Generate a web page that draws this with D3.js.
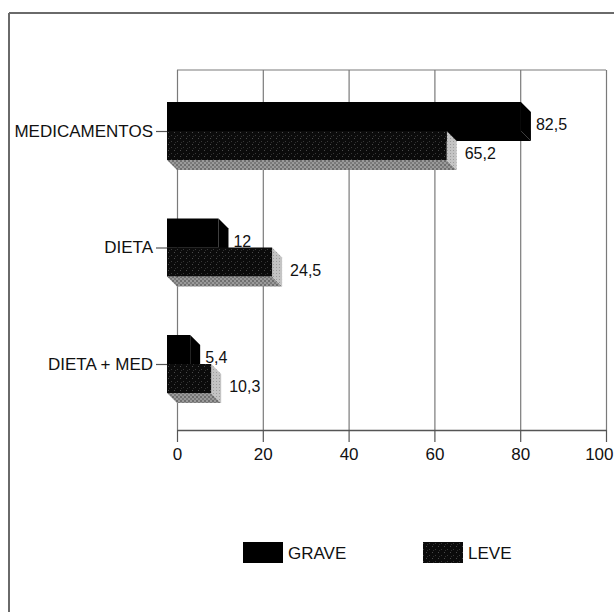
<!DOCTYPE html>
<html>
<head>
<meta charset="utf-8">
<script src="https://cdn.jsdelivr.net/npm/d3@7"></script>
<style>
  html, body { margin: 0; padding: 0; background: #fff; }
  svg { display: block; }
  text { font-family: "Liberation Sans Narrow", "Arial Narrow", "Liberation Sans", sans-serif; font-stretch: condensed; fill: #111; }
</style>
</head>
<body>
<svg id="chart" width="614" height="612"></svg>
<script>
// Categories and the two series (percent)
const categories = ["MEDICAMENTOS", "DIETA", "DIETA + MED"];
const seriesNames = ["GRAVE", "LEVE"];
const graveValues = [82.5, 12, 5.4];
const leveValues = [65.2, 24.5, 10.3];
const xTickValues = [0, 20, 40, 60, 80, 100];

const svg = d3.select("#chart");
const W = 614, H = 612;
const FONT = "'Liberation Sans Narrow','Arial Narrow','Liberation Sans',sans-serif";

// Patterns for the textured LEVE bars
const defs = svg.append("defs");
const pFront = defs.append("pattern").attr("id", "leveFront")
  .attr("patternUnits", "userSpaceOnUse").attr("width", 6).attr("height", 6);
pFront.append("rect").attr("width", 6).attr("height", 6).attr("fill", "#0b0b0b");
pFront.append("rect").attr("x", 0).attr("y", 0).attr("width", 1).attr("height", 1).attr("fill", "#4a4a4a");
pFront.append("rect").attr("x", 3).attr("y", 3).attr("width", 1).attr("height", 1).attr("fill", "#3a3a3a");
pFront.append("rect").attr("x", 1).attr("y", 4).attr("width", 1).attr("height", 1).attr("fill", "#2e2e2e");

const pBottom = defs.append("pattern").attr("id", "leveBottom")
  .attr("patternUnits", "userSpaceOnUse").attr("width", 4).attr("height", 4);
pBottom.append("rect").attr("width", 4).attr("height", 4).attr("fill", "#9a9a9a");
pBottom.append("rect").attr("x", 0).attr("y", 0).attr("width", 2).attr("height", 2).attr("fill", "#6e6e6e");
pBottom.append("rect").attr("x", 2).attr("y", 2).attr("width", 2).attr("height", 2).attr("fill", "#7a7a7a");

const pSide = defs.append("pattern").attr("id", "leveSide")
  .attr("patternUnits", "userSpaceOnUse").attr("width", 3).attr("height", 3);
pSide.append("rect").attr("width", 3).attr("height", 3).attr("fill", "#c4c4c4");
pSide.append("rect").attr("x", 0).attr("y", 0).attr("width", 1).attr("height", 1).attr("fill", "#9c9c9c");

// Outer frame (top and left edges)
svg.append("line").attr("x1", 9).attr("y1", 13).attr("x2", W).attr("y2", 13)
  .attr("stroke", "#6a6a6a").attr("stroke-width", 2);
svg.append("line").attr("x1", 9).attr("y1", 13).attr("x2", 9).attr("y2", H)
  .attr("stroke", "#6a6a6a").attr("stroke-width", 2);

// Scales
const plotTop = 70, plotBottom = 430;
const x = d3.scaleLinear().domain([0, 100]).range([177, 606]);
const y = d3.scalePoint().domain(categories).range([131, 364]);
const depth = 10;      // 3D extrusion offset
const barH = 29;       // front-face thickness of each bar

// Gridlines + top edge of the plotting area
const grid = svg.append("g").attr("transform", `translate(0,${plotBottom})`)
  .call(d3.axisBottom(x).tickValues(xTickValues).tickSize(-(plotBottom - plotTop)).tickFormat(""));
grid.select(".domain").remove();
grid.selectAll(".tick line").attr("stroke", "#7a7a7a").attr("stroke-width", 1.2);
svg.append("line").attr("x1", x(0)).attr("x2", x(100)).attr("y1", plotTop).attr("y2", plotTop)
  .attr("stroke", "#7a7a7a").attr("stroke-width", 1.2);

// Bottom value axis
const xAxis = svg.append("g").attr("transform", `translate(0,${plotBottom})`)
  .call(d3.axisBottom(x).tickValues(xTickValues).tickSize(12).tickPadding(6).tickSizeOuter(0));
xAxis.select(".domain").attr("stroke", "#555").attr("stroke-width", 1.5);
xAxis.selectAll(".tick line").attr("stroke", "#555").attr("stroke-width", 1.2);
xAxis.selectAll(".tick text").attr("font-size", 17).attr("fill", "#111").style("font-family", FONT);
// keep the last tick label inside the page
xAxis.selectAll(".tick text").filter(d => d === 100).attr("text-anchor", "end").attr("dx", 7);

// Category axis (front plane)
const yAxis = svg.append("g").attr("transform", `translate(${x(0) - depth},0)`)
  .call(d3.axisLeft(y).tickSize(11).tickPadding(3));
yAxis.select(".domain").remove();
yAxis.selectAll(".tick line").attr("stroke", "#555").attr("stroke-width", 1.2);
yAxis.selectAll(".tick text").attr("font-size", 17).attr("fill", "#111").style("font-family", FONT);

const fmt = v => String(v).replace(".", ",");

// Draws one extruded bar; front face is shifted up-left by `depth` from the value plane
function bar3d(v, yTop, style) {
  const x0 = x(0) - depth, x1 = x(v) - depth;
  const y0 = yTop, y1 = yTop + barH;
  const g = svg.append("g");
  g.append("polygon")
    .attr("points", [[x0, y1], [x1, y1], [x1 + depth, y1 + depth], [x0 + depth, y1 + depth]].join(" "))
    .attr("fill", style.bottom);
  g.append("polygon")
    .attr("points", [[x1, y0], [x1 + depth, y0 + depth], [x1 + depth, y1 + depth], [x1, y1]].join(" "))
    .attr("fill", style.side);
  g.append("rect").attr("x", x0).attr("y", y0).attr("width", x1 - x0).attr("height", barH)
    .attr("fill", style.front);
  return g;
}

const graveStyle = { front: "#000", side: "#000", bottom: "#000" };
const leveStyle = { front: "url(#leveFront)", side: "url(#leveSide)", bottom: "url(#leveBottom)" };

categories.forEach((c, i) => {
  const cy = y(c);
  // GRAVE (upper) then LEVE (lower, drawn over it)
  bar3d(graveValues[i], cy - barH, graveStyle);
  bar3d(leveValues[i], cy, leveStyle);

  svg.append("text")
    .attr("x", x(graveValues[i]) + 5)
    .attr("y", cy - barH + depth + barH / 2 - 2)
    .attr("dy", "0.35em").attr("font-size", 16)
    .text(fmt(graveValues[i]));
  svg.append("text")
    .attr("x", x(leveValues[i]) + 8)
    .attr("y", cy + depth + barH / 2 - 2)
    .attr("dy", "0.35em").attr("font-size", 16)
    .text(fmt(leveValues[i]));
});

// Legend
const legendFills = ["#000", "url(#leveFront)"];
const legendX = [243, 423];
seriesNames.forEach((name, i) => {
  svg.append("rect").attr("x", legendX[i]).attr("y", 542).attr("width", 40).attr("height", 21)
    .attr("fill", legendFills[i]);
  svg.append("text").attr("x", legendX[i] + 45).attr("y", 553).attr("dy", "0.35em")
    .attr("font-size", 17).text(name);
});
</script>
</body>
</html>
